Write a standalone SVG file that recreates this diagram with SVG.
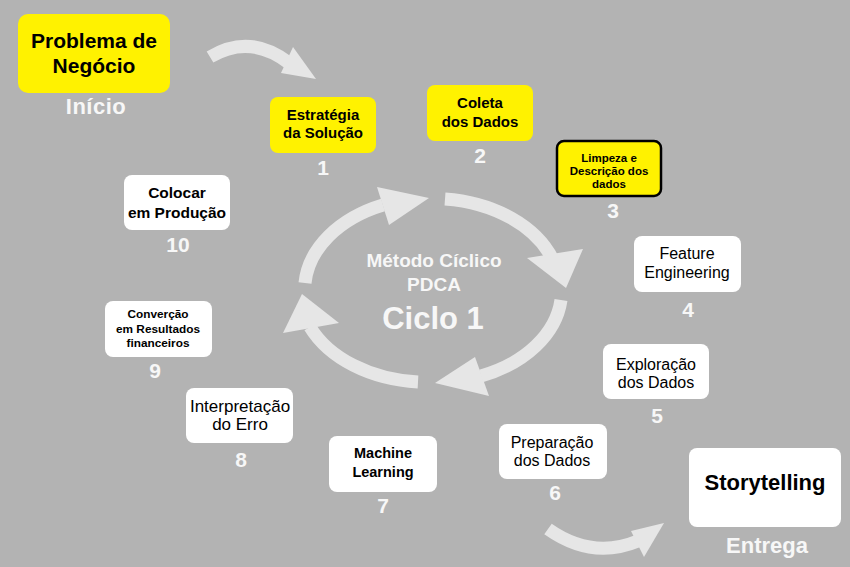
<svg xmlns="http://www.w3.org/2000/svg" width="850" height="567" viewBox="0 0 850 567">
<style>
.bg{fill:#b3b3b3}
.yb{fill:#fff200}
.wb{fill:#ffffff}
.t{font-family:"Liberation Sans",Arial,sans-serif;fill:#000;text-anchor:middle}
.b{font-weight:bold}
.n{font-family:"Liberation Sans",Arial,sans-serif;font-weight:bold;fill:#f7f7f7;text-anchor:middle;font-size:21px}
.arc{fill:none;stroke:#e6e6e6;stroke-width:13}
.head{fill:#e6e6e6}
</style>
<rect class="bg" x="0" y="0" width="850" height="567"/>
<g id="connectors">
<path class="arc" d="M210,57 Q250,33 289,63"/>
<polygon class="head" points="293,47 316,79 281,73"/>
<path class="arc" d="M548,529 Q592,560 638,541"/>
<polygon class="head" points="631,531 664,523 644,557"/>
<path class="arc" d="M305,283 A128,92 0 0,1 383,205"/>
<polygon class="head" points="377,187 429,198 389,225"/>
<path class="arc" d="M445,199 A128,92 0 0,1 553,260"/>
<polygon class="head" points="527,258 583,249 566,288"/>
<path class="arc" d="M561,300 A128,92 0 0,1 481,376"/>
<polygon class="head" points="475,357 435,383 489,396"/>
<path class="arc" d="M418,382 A128,92 0 0,1 310,327"/>
<polygon class="head" points="302,294 283,333 339,323"/>
</g>
<g id="center">
<text class="n" x="434" y="267" style="font-size:19px">Método Cíclico</text>
<text class="n" x="434" y="291" style="font-size:19px">PDCA</text>
<text class="n" x="433" y="329" style="font-size:31px">Ciclo 1</text>
</g>
<g id="problema">
<rect class="yb" x="18" y="14" width="152" height="79" rx="10"/>
<text class="t b" x="94" y="48" font-size="21">Problema de</text>
<text class="t b" x="94" y="73" font-size="21">Negócio</text>
<text class="n" x="96" y="114" style="font-size:22px;letter-spacing:0.5px">Início</text>
</g>
<g id="n1">
<rect class="yb" x="270" y="97" width="106" height="56" rx="8"/>
<text class="t b" x="323" y="120" font-size="15">Estratégia</text>
<text class="t b" x="323" y="138" font-size="15">da Solução</text>
<text class="n" x="323" y="175">1</text>
</g>
<g id="n2">
<rect class="yb" x="427" y="85" width="106" height="56" rx="8"/>
<text class="t b" x="480" y="108" font-size="15">Coleta</text>
<text class="t b" x="480" y="127" font-size="15">dos Dados</text>
<text class="n" x="480" y="163">2</text>
</g>
<g id="n3">
<rect class="yb" x="557" y="141" width="104" height="55" rx="7" stroke="#000" stroke-width="2.5"/>
<text class="t b" x="609" y="162" font-size="11.5">Limpeza e</text>
<text class="t b" x="609" y="175" font-size="11.5">Descrição dos</text>
<text class="t b" x="609" y="188" font-size="11.5">dados</text>
<text class="n" x="613" y="218">3</text>
</g>
<g id="n4">
<rect class="wb" x="634" y="236" width="107" height="56" rx="8"/>
<text class="t" x="687" y="259" font-size="16">Feature</text>
<text class="t" x="687" y="278" font-size="16">Engineering</text>
<text class="n" x="688" y="317">4</text>
</g>
<g id="n5">
<rect class="wb" x="603" y="344" width="106" height="55" rx="8"/>
<text class="t" x="656" y="370" font-size="16">Exploração</text>
<text class="t" x="656" y="388" font-size="16">dos Dados</text>
<text class="n" x="657" y="423">5</text>
</g>
<g id="n6">
<rect class="wb" x="499" y="424" width="108" height="55" rx="8"/>
<text class="t" x="552" y="448" font-size="16">Preparação</text>
<text class="t" x="552" y="466" font-size="16">dos Dados</text>
<text class="n" x="555" y="500">6</text>
</g>
<g id="storytelling">
<rect class="wb" x="689" y="448" width="152" height="79" rx="8"/>
<text class="t b" x="765" y="490" font-size="22">Storytelling</text>
<text class="n" x="767" y="553" style="font-size:22px">Entrega</text>
</g>
<g id="n7">
<rect class="wb" x="329" y="436" width="108" height="56" rx="8"/>
<text class="t b" x="383" y="458" font-size="14.5">Machine</text>
<text class="t b" x="383" y="477" font-size="14.5">Learning</text>
<text class="n" x="383" y="513">7</text>
</g>
<g id="n8">
<rect class="wb" x="186" y="388" width="107" height="55" rx="8"/>
<text class="t" x="240" y="412" font-size="17">Interpretação</text>
<text class="t" x="240" y="430" font-size="17">do Erro</text>
<text class="n" x="241" y="467">8</text>
</g>
<g id="n9">
<rect class="wb" x="105" y="301" width="107" height="56" rx="8"/>
<text class="t b" x="158" y="318" font-size="11.8">Converção</text>
<text class="t b" x="158" y="333" font-size="11.8">em Resultados</text>
<text class="t b" x="158" y="347" font-size="11.8">financeiros</text>
<text class="n" x="155" y="378">9</text>
</g>
<g id="n10">
<rect class="wb" x="124" y="175" width="106" height="55" rx="8"/>
<text class="t b" x="177" y="198" font-size="15.5">Colocar</text>
<text class="t b" x="177" y="218" font-size="15.5">em Produção</text>
<text class="n" x="178" y="252">10</text>
</g>
</svg>
